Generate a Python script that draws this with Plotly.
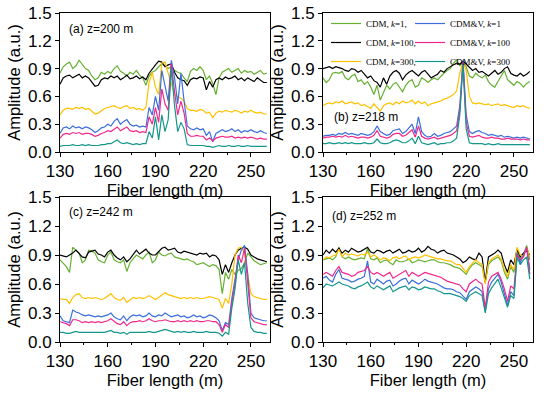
import plotly.graph_objects as go

# ---------------- data ----------------
fiber_length = [130, 132, 134, 136, 138, 140, 142, 144, 146, 148,
                150, 152, 154, 156, 158, 160, 162, 164, 166, 168,
                170, 172, 174, 176, 178, 180, 182, 184, 186, 188,
                190, 192, 194, 196, 198, 200, 202, 204, 206, 208,
                210, 212, 214, 216, 218, 220, 222, 224, 226, 228,
                230, 232, 234, 236, 238, 240, 242, 244, 246, 248,
                250, 252, 254, 256, 258, 260]

series_names = ["CDM, <i>k</i>=1,", "CDM, <i>k</i>=100,", "CDM, <i>k</i>=300,",
                "CDM&V, <i>k</i>=1", "CDM&V, <i>k</i>=100", "CDM&V, <i>k</i>=300"]
series_colors = ["#66b032", "#000000", "#ffc000", "#3c6fdc", "#f0288c", "#14968c"]

panel_labels = ["(a) z=200 m", "(b) z=218 m", "(c) z=242 m", "(d) z=252 m"]

x_ticks = [130, 160, 190, 220, 250]
y_ticks = [0.0, 0.3, 0.6, 0.9, 1.2, 1.5]
y_tick_text = ["0.0", "0.3", "0.6", "0.9", "1.2", "1.5"]

# panel (a) z=200 m
a_cdm_k1 = [0.85, 0.92, 0.95, 0.97, 0.90, 0.93, 0.99, 0.95, 0.90, 0.88,
            0.82, 0.78, 0.80, 0.86, 0.84, 0.87, 0.85, 0.90, 0.93, 0.87,
            0.85, 0.82, 0.86, 0.84, 0.88, 0.83, 0.80, 0.72, 0.82, 0.86,
            0.88, 0.92, 0.95, 0.93, 0.90, 0.92, 0.88, 0.86, 0.85, 0.80,
            0.76, 0.87, 0.90, 0.88, 0.92, 0.88, 0.78, 0.82, 0.74, 0.62,
            0.80, 0.86, 0.88, 0.90, 0.86, 0.88, 0.90, 0.85, 0.88, 0.86,
            0.87, 0.84, 0.86, 0.88, 0.84, 0.85]
a_cdm_k100 = [0.73, 0.80, 0.82, 0.83, 0.80, 0.82, 0.84, 0.80, 0.82, 0.80,
              0.76, 0.71, 0.72, 0.78, 0.80, 0.79, 0.82, 0.80, 0.82, 0.78,
              0.80, 0.83, 0.79, 0.80, 0.82, 0.79, 0.81, 0.78, 0.85, 0.90,
              0.94, 0.98, 0.97, 0.92, 0.94, 0.95, 0.86, 0.80, 0.78, 0.77,
              0.72, 0.78, 0.80, 0.79, 0.81, 0.80, 0.67, 0.76, 0.70, 0.78,
              0.80, 0.78, 0.81, 0.79, 0.80, 0.82, 0.78, 0.80, 0.77, 0.80,
              0.78, 0.76, 0.80, 0.77, 0.75, 0.75]
a_cdm_k300 = [0.40, 0.45, 0.47, 0.47, 0.46, 0.48, 0.47, 0.48, 0.46, 0.47,
              0.44, 0.41, 0.42, 0.45, 0.47, 0.48, 0.49, 0.50, 0.48, 0.47,
              0.49, 0.50, 0.47, 0.48, 0.46, 0.47, 0.45, 0.48, 0.75, 0.86,
              0.70, 0.62, 0.96, 0.97, 0.85, 0.72, 0.62, 0.60, 0.58, 0.55,
              0.47, 0.45, 0.45, 0.44, 0.46, 0.45, 0.42, 0.43, 0.37, 0.42,
              0.44, 0.43, 0.45, 0.44, 0.43, 0.45, 0.44, 0.42, 0.44, 0.43,
              0.45, 0.43, 0.42, 0.43, 0.41, 0.41]
a_cdmv_k1 = [0.20, 0.26, 0.27, 0.25, 0.28, 0.26, 0.27, 0.25, 0.27, 0.26,
             0.24, 0.21, 0.23, 0.26, 0.27, 0.30, 0.28, 0.33, 0.36, 0.30,
             0.33, 0.35, 0.30, 0.28, 0.29, 0.27, 0.28, 0.27, 0.48, 0.40,
             0.60, 0.45, 0.88, 0.70, 0.55, 0.99, 0.80, 0.52, 0.85, 0.55,
             0.28, 0.25, 0.24, 0.26, 0.24, 0.25, 0.18, 0.22, 0.11, 0.20,
             0.22, 0.24, 0.22, 0.23, 0.25, 0.22, 0.24, 0.21, 0.23, 0.22,
             0.24, 0.22, 0.21, 0.23, 0.21, 0.20]
a_cdmv_k100 = [0.15, 0.19, 0.20, 0.19, 0.21, 0.20, 0.21, 0.19, 0.20, 0.20,
               0.19, 0.17, 0.18, 0.20, 0.21, 0.23, 0.22, 0.25, 0.27, 0.23,
               0.25, 0.27, 0.23, 0.22, 0.23, 0.21, 0.22, 0.21, 0.38, 0.30,
               0.48, 0.32, 0.68, 0.52, 0.45, 0.95, 0.65, 0.40, 0.55, 0.42,
               0.20, 0.17, 0.17, 0.18, 0.17, 0.17, 0.13, 0.15, 0.12, 0.15,
               0.16, 0.17, 0.16, 0.16, 0.17, 0.15, 0.16, 0.15, 0.16, 0.15,
               0.16, 0.15, 0.14, 0.15, 0.14, 0.14]
a_cdmv_k300 = [0.06, 0.07, 0.07, 0.07, 0.08, 0.07, 0.07, 0.08, 0.07, 0.08,
               0.07, 0.07, 0.07, 0.08, 0.08, 0.09, 0.09, 0.11, 0.13, 0.10,
               0.09, 0.10, 0.09, 0.08, 0.09, 0.08, 0.09, 0.09, 0.22, 0.15,
               0.38, 0.13, 0.40, 0.22, 0.35, 0.90, 0.50, 0.22, 0.32, 0.25,
               0.08, 0.07, 0.07, 0.07, 0.07, 0.07, 0.06, 0.06, 0.05, 0.06,
               0.07, 0.06, 0.06, 0.07, 0.06, 0.06, 0.07, 0.06, 0.06, 0.07,
               0.06, 0.06, 0.06, 0.06, 0.06, 0.06]

# panel (b) z=218 m
b_cdm_k1 = [0.80, 0.75, 0.78, 0.85, 0.86, 0.85, 0.87, 0.80, 0.78, 0.82,
            0.84, 0.76, 0.78, 0.73, 0.76, 0.70, 0.62, 0.72, 0.56, 0.65,
            0.72, 0.68, 0.73, 0.75, 0.70, 0.65, 0.72, 0.76, 0.78, 0.70,
            0.72, 0.80, 0.78, 0.75, 0.78, 0.80, 0.78, 0.82, 0.85, 0.88,
            0.90, 0.96, 0.99, 0.93, 0.97, 0.92, 0.82, 0.80, 0.85, 0.82,
            0.80, 0.83, 0.76, 0.72, 0.70, 0.76, 0.82, 0.88, 0.78, 0.75,
            0.72, 0.76, 0.74, 0.70, 0.74, 0.76]
b_cdm_k100 = [0.90, 0.91, 0.92, 0.90, 0.92, 0.91, 0.90, 0.88, 0.87, 0.90,
              0.89, 0.86, 0.88, 0.84, 0.80, 0.82, 0.77, 0.75, 0.70, 0.80,
              0.73, 0.82, 0.86, 0.88, 0.85, 0.78, 0.83, 0.86, 0.88, 0.85,
              0.82, 0.86, 0.88, 0.84, 0.80, 0.82, 0.84, 0.88, 0.86, 0.90,
              0.92, 0.94, 0.96, 0.95, 0.98, 0.95, 0.92, 0.88, 0.90, 0.86,
              0.87, 0.84, 0.82, 0.85, 0.88, 0.84, 0.86, 0.90, 0.92, 0.85,
              0.83, 0.82, 0.85, 0.82, 0.84, 0.87]
b_cdm_k300 = [0.50, 0.52, 0.53, 0.52, 0.54, 0.53, 0.55, 0.52, 0.53, 0.54,
              0.52, 0.53, 0.50, 0.51, 0.49, 0.47, 0.52, 0.48, 0.44, 0.50,
              0.52, 0.53, 0.51, 0.54, 0.52, 0.55, 0.53, 0.54, 0.56, 0.52,
              0.55, 0.52, 0.54, 0.50, 0.52, 0.53, 0.54, 0.55, 0.57, 0.58,
              0.60, 0.62, 0.66, 0.85, 0.97, 0.88, 0.60, 0.53, 0.52, 0.53,
              0.52, 0.51, 0.52, 0.50, 0.51, 0.52, 0.50, 0.51, 0.50, 0.49,
              0.48, 0.50, 0.49, 0.50, 0.48, 0.47]
b_cdmv_k1 = [0.17, 0.18, 0.18, 0.19, 0.18, 0.20, 0.19, 0.21, 0.19, 0.20,
             0.19, 0.18, 0.20, 0.19, 0.18, 0.19, 0.22, 0.28, 0.22, 0.20,
             0.18, 0.19, 0.23, 0.24, 0.25, 0.20, 0.22, 0.26, 0.30, 0.20,
             0.38, 0.22, 0.18, 0.16, 0.17, 0.20, 0.17, 0.18, 0.20, 0.21,
             0.22, 0.25, 0.28, 0.50, 0.99, 0.40, 0.22, 0.20, 0.22, 0.23,
             0.21, 0.20, 0.18, 0.19, 0.18, 0.17, 0.18, 0.16, 0.17, 0.16,
             0.15, 0.16, 0.15, 0.16, 0.15, 0.14]
b_cdmv_k100 = [0.15, 0.16, 0.16, 0.17, 0.16, 0.17, 0.16, 0.18, 0.16, 0.17,
               0.16, 0.15, 0.16, 0.16, 0.15, 0.16, 0.18, 0.23, 0.17, 0.16,
               0.15, 0.16, 0.19, 0.20, 0.20, 0.17, 0.18, 0.21, 0.24, 0.16,
               0.28, 0.17, 0.15, 0.14, 0.15, 0.16, 0.14, 0.15, 0.16, 0.17,
               0.18, 0.20, 0.23, 0.45, 0.97, 0.32, 0.17, 0.16, 0.17, 0.18,
               0.16, 0.15, 0.15, 0.16, 0.15, 0.15, 0.14, 0.14, 0.15, 0.14,
               0.14, 0.14, 0.13, 0.14, 0.13, 0.13]
b_cdmv_k300 = [0.09, 0.09, 0.10, 0.09, 0.09, 0.10, 0.09, 0.10, 0.09, 0.10,
               0.09, 0.09, 0.09, 0.10, 0.09, 0.09, 0.10, 0.14, 0.10, 0.09,
               0.09, 0.10, 0.12, 0.13, 0.12, 0.10, 0.10, 0.12, 0.15, 0.09,
               0.17, 0.10, 0.09, 0.08, 0.09, 0.10, 0.08, 0.09, 0.09, 0.10,
               0.10, 0.12, 0.15, 0.40, 0.95, 0.25, 0.10, 0.09, 0.09, 0.09,
               0.09, 0.08, 0.09, 0.08, 0.08, 0.09, 0.08, 0.08, 0.08, 0.08,
               0.08, 0.08, 0.08, 0.08, 0.08, 0.08]

# panel (c) z=242 m
c_cdm_k1 = [0.85, 0.82, 0.78, 0.72, 0.98, 0.95, 0.92, 0.82, 0.85, 0.95,
            0.94, 0.92, 0.85, 0.83, 0.82, 0.90, 0.93, 0.85, 0.83, 0.82,
            0.85, 0.73, 0.82, 0.86, 0.90, 0.88, 0.86, 0.90, 0.93, 0.82,
            0.85, 0.93, 0.90, 0.89, 0.91, 0.92, 0.88, 0.87, 0.86, 0.85,
            0.86, 0.84, 0.83, 0.80, 0.81, 0.82, 0.80, 0.78, 0.80, 0.79,
            0.75, 0.50, 0.72, 0.65, 0.75, 0.70, 0.74, 0.76, 0.82, 0.92,
            0.88, 0.84, 0.82, 0.80, 0.81, 0.82]
c_cdm_k100 = [0.90, 0.89, 0.88, 0.90, 0.92, 0.95, 0.92, 0.88, 0.87, 0.93,
              0.94, 0.95, 0.91, 0.90, 0.88, 0.93, 0.95, 0.90, 0.87, 0.85,
              0.88, 0.83, 0.86, 0.90, 0.95, 0.91, 0.94, 0.96, 0.92, 0.90,
              0.90, 0.94, 0.97, 0.98, 0.95, 0.96, 0.97, 0.93, 0.92, 0.94,
              0.93, 0.92, 0.91, 0.90, 0.92, 0.91, 0.92, 0.88, 0.90, 0.89,
              0.85, 0.70, 0.80, 0.72, 0.82, 0.90, 0.95, 0.97, 0.98, 0.96,
              0.90, 0.88, 0.86, 0.85, 0.84, 0.83]
c_cdm_k300 = [0.45, 0.44, 0.44, 0.40, 0.46, 0.49, 0.50, 0.46, 0.45, 0.46,
              0.45, 0.46, 0.45, 0.44, 0.45, 0.48, 0.50, 0.46, 0.44, 0.43,
              0.46, 0.41, 0.44, 0.46, 0.45, 0.46, 0.45, 0.46, 0.48, 0.46,
              0.44, 0.46, 0.49, 0.51, 0.49, 0.48, 0.47, 0.46, 0.45, 0.46,
              0.45, 0.46, 0.45, 0.46, 0.45, 0.45, 0.46, 0.47, 0.46, 0.45,
              0.44, 0.35, 0.45, 0.40, 0.60, 0.90, 0.97, 0.98, 0.92, 0.70,
              0.50, 0.47, 0.46, 0.45, 0.44, 0.44]
c_cdmv_k1 = [0.27, 0.22, 0.21, 0.20, 0.33, 0.31, 0.30, 0.28, 0.27, 0.28,
             0.27, 0.26, 0.27, 0.26, 0.27, 0.28, 0.30, 0.26, 0.24, 0.23,
             0.27, 0.22, 0.26, 0.28, 0.27, 0.28, 0.26, 0.27, 0.30, 0.27,
             0.26, 0.28, 0.27, 0.30, 0.28, 0.26, 0.27, 0.28, 0.26, 0.27,
             0.25, 0.26, 0.28, 0.26, 0.27, 0.25, 0.26, 0.28, 0.27, 0.25,
             0.22, 0.12, 0.20, 0.18, 0.45, 0.65, 0.85, 0.95, 1.00, 0.70,
             0.30, 0.25, 0.24, 0.23, 0.22, 0.22]
c_cdmv_k100 = [0.21, 0.20, 0.19, 0.17, 0.23, 0.23, 0.22, 0.20, 0.21, 0.20,
               0.21, 0.20, 0.21, 0.20, 0.21, 0.22, 0.24, 0.21, 0.19, 0.18,
               0.21, 0.17, 0.20, 0.21, 0.21, 0.22, 0.21, 0.22, 0.24, 0.22,
               0.21, 0.22, 0.22, 0.23, 0.22, 0.21, 0.21, 0.22, 0.21, 0.22,
               0.21, 0.22, 0.21, 0.22, 0.21, 0.21, 0.22, 0.22, 0.21, 0.21,
               0.18, 0.10, 0.18, 0.15, 0.40, 0.60, 0.90, 0.82, 0.97, 0.60,
               0.25, 0.21, 0.20, 0.19, 0.18, 0.18]
c_cdmv_k300 = [0.10, 0.10, 0.09, 0.09, 0.10, 0.11, 0.10, 0.10, 0.10, 0.10,
               0.10, 0.10, 0.10, 0.10, 0.10, 0.11, 0.12, 0.10, 0.10, 0.09,
               0.10, 0.08, 0.10, 0.10, 0.10, 0.10, 0.10, 0.10, 0.11, 0.10,
               0.10, 0.11, 0.12, 0.13, 0.12, 0.11, 0.10, 0.11, 0.10, 0.11,
               0.10, 0.10, 0.11, 0.10, 0.10, 0.10, 0.11, 0.10, 0.10, 0.10,
               0.09, 0.06, 0.10, 0.08, 0.35, 0.55, 0.85, 0.70, 0.82, 0.40,
               0.15, 0.11, 0.10, 0.10, 0.09, 0.09]

# panel (d) z=252 m
d_cdm_k1 = [0.85, 0.86, 0.87, 0.85, 0.88, 0.98, 0.88, 0.86, 0.88, 0.86,
            0.85, 0.86, 0.87, 0.86, 0.97, 0.86, 0.85, 0.87, 0.82, 0.84,
            0.85, 0.82, 0.80, 0.85, 0.83, 0.83, 0.84, 0.86, 0.82, 0.83,
            0.85, 0.84, 0.83, 0.84, 0.85, 0.85, 0.83, 0.82, 0.82, 0.81,
            0.80, 0.78, 0.77, 0.76, 0.73, 0.70, 0.76, 0.80, 0.82, 0.80,
            0.78, 0.62, 0.80, 0.84, 0.86, 0.88, 0.84, 0.72, 0.65, 0.78,
            0.72, 0.95, 0.85, 0.90, 1.00, 0.85]
d_cdm_k100 = [0.90, 0.95, 0.92, 0.96, 0.93, 0.97, 0.92, 0.95, 0.93, 0.97,
              0.95, 0.93, 0.94, 0.96, 0.98, 0.93, 0.92, 0.95, 0.94, 0.92,
              0.94, 0.95, 0.92, 0.94, 0.96, 0.92, 0.93, 0.95, 0.93, 0.94,
              0.97, 0.93, 0.95, 0.99, 0.96, 0.95, 0.92, 0.94, 0.95, 0.92,
              0.91, 0.90, 0.88, 0.86, 0.82, 0.84, 0.88, 0.86, 0.85, 0.92,
              0.88, 0.62, 0.88, 0.90, 0.92, 0.95, 0.92, 0.80, 0.72, 0.85,
              0.80, 0.96, 0.88, 0.92, 0.95, 0.90]
d_cdm_k300 = [0.85, 0.88, 0.87, 0.89, 0.90, 0.96, 0.88, 0.92, 0.90, 0.91,
              0.90, 0.89, 0.91, 0.90, 0.93, 0.88, 0.90, 0.88, 0.85, 0.87,
              0.86, 0.84, 0.87, 0.88, 0.86, 0.88, 0.89, 0.85, 0.87, 0.88,
              0.87, 0.88, 0.90, 0.89, 0.88, 0.87, 0.86, 0.86, 0.85, 0.84,
              0.84, 0.82, 0.80, 0.80, 0.76, 0.72, 0.78, 0.82, 0.85, 0.82,
              0.80, 0.60, 0.82, 0.86, 0.88, 0.90, 0.86, 0.75, 0.68, 0.80,
              0.75, 0.98, 0.90, 0.88, 0.98, 0.88]
d_cdmv_k1 = [0.66, 0.68, 0.64, 0.62, 0.70, 0.75, 0.66, 0.65, 0.64, 0.62,
             0.63, 0.65, 0.66, 0.68, 0.84, 0.62, 0.60, 0.65, 0.62, 0.60,
             0.63, 0.64, 0.58, 0.60, 0.63, 0.65, 0.66, 0.60, 0.64, 0.62,
             0.60, 0.62, 0.65, 0.63, 0.62, 0.61, 0.60, 0.58, 0.56, 0.55,
             0.55, 0.54, 0.52, 0.51, 0.48, 0.44, 0.52, 0.55, 0.57, 0.55,
             0.52, 0.32, 0.55, 0.62, 0.66, 0.70, 0.62, 0.50, 0.38, 0.52,
             0.48, 0.92, 0.82, 0.90, 0.98, 0.75]
d_cdmv_k100 = [0.70, 0.72, 0.70, 0.68, 0.74, 0.78, 0.72, 0.71, 0.70, 0.68,
               0.69, 0.72, 0.73, 0.74, 0.78, 0.72, 0.70, 0.72, 0.70, 0.68,
               0.70, 0.72, 0.66, 0.68, 0.70, 0.72, 0.74, 0.68, 0.72, 0.70,
               0.68, 0.70, 0.72, 0.71, 0.70, 0.69, 0.68, 0.67, 0.65, 0.63,
               0.62, 0.61, 0.60, 0.59, 0.55, 0.52, 0.60, 0.63, 0.65, 0.62,
               0.60, 0.35, 0.62, 0.68, 0.70, 0.72, 0.65, 0.55, 0.42, 0.58,
               0.55, 0.90, 0.85, 0.88, 0.98, 0.70]
d_cdmv_k300 = [0.56, 0.60, 0.59, 0.58, 0.60, 0.62, 0.60, 0.59, 0.58, 0.56,
               0.55, 0.57, 0.58, 0.60, 0.62, 0.57, 0.55, 0.58, 0.56, 0.54,
               0.56, 0.58, 0.52, 0.54, 0.56, 0.57, 0.58, 0.54, 0.57, 0.56,
               0.54, 0.55, 0.57, 0.56, 0.55, 0.55, 0.53, 0.52, 0.50, 0.50,
               0.50, 0.49, 0.48, 0.47, 0.45, 0.42, 0.48, 0.50, 0.52, 0.50,
               0.48, 0.30, 0.50, 0.56, 0.60, 0.65, 0.56, 0.45, 0.36, 0.48,
               0.45, 0.88, 0.80, 0.85, 0.88, 0.65]

panels = [
    [a_cdm_k1, a_cdm_k100, a_cdm_k300, a_cdmv_k1, a_cdmv_k100, a_cdmv_k300],
    [b_cdm_k1, b_cdm_k100, b_cdm_k300, b_cdmv_k1, b_cdmv_k100, b_cdmv_k300],
    [c_cdm_k1, c_cdm_k100, c_cdm_k300, c_cdmv_k1, c_cdmv_k100, c_cdmv_k300],
    [d_cdm_k1, d_cdm_k100, d_cdm_k300, d_cdmv_k1, d_cdmv_k100, d_cdmv_k300],
]

# ---------------- layout geometry (pixels of a 550x394 page) ----------------
W, H = 550, 394
x_doms = [[60 / W, 270 / W], [323 / W, 533 / W], [60 / W, 270 / W], [323 / W, 533 / W]]
y_doms = [[1 - 152 / H, 1 - 13 / H], [1 - 152 / H, 1 - 13 / H],
          [1 - 342 / H, 1 - 197 / H], [1 - 342 / H, 1 - 197 / H]]
label_pos = [(0.035, 0.885), (0.045, 0.25), (0.035, 0.897), (0.035, 0.87)]

FONT = "Liberation Sans, Arial, sans-serif"
SERIF = "Liberation Serif, Times New Roman, serif"

fig = go.Figure()

for p, series in enumerate(panels):
    suffix = "" if p == 0 else str(p + 1)
    for s, vals in enumerate(series):
        fig.add_trace(go.Scatter(
            x=fiber_length, y=vals, mode="lines",
            name=series_names[s],
            line=dict(color=series_colors[s], width=1.2),
            xaxis="x" + suffix, yaxis="y" + suffix,
            showlegend=(p == 0),
            legend="legend" if s < 3 else "legend2",
        ))

axis_common = dict(
    showline=True, linecolor="black", linewidth=1, mirror=True,
    ticks="outside", ticklen=4, tickwidth=1, tickcolor="black",
    showgrid=False, zeroline=False, automargin=False,
    tickfont=dict(family=FONT, size=17, color="black"),
)

legend_common = dict(
    xanchor="left", yanchor="top",
    bgcolor="rgba(0,0,0,0)", borderwidth=0,
    font=dict(family=SERIF, size=9, color="black"),
    tracegroupgap=0,
)

layout = dict(
    width=W, height=H,
    margin=dict(l=0, r=0, t=0, b=0, autoexpand=False),
    paper_bgcolor="white", plot_bgcolor="white",
    font=dict(family=FONT, color="black"),
    legend=dict(legend_common, x=326 / W, y=1 - 9 / H),
    legend2=dict(legend_common, x=410 / W, y=1 - 9 / H),
    annotations=[],
)

for p in range(4):
    suffix = "" if p == 0 else str(p + 1)
    layout["xaxis" + suffix] = dict(
        axis_common, domain=x_doms[p], anchor="y" + suffix,
        range=[130, 262], tickvals=x_ticks,
        minor=dict(tickvals=[145, 175, 205, 235], ticks="outside", ticklen=2, tickcolor="black"),
        title=dict(text="Fiber length (m)", font=dict(family=FONT, size=16.5, color="black"), standoff=4),
    )
    layout["yaxis" + suffix] = dict(
        axis_common, domain=y_doms[p], anchor="x" + suffix,
        range=[0, 1.5], tickvals=y_ticks, ticktext=y_tick_text,
        title=dict(text="Amplitude (a.u.)", font=dict(family=FONT, size=16.5, color="black"), standoff=3),
    )
    layout["annotations"].append(dict(
        text=panel_labels[p], xref="x" + suffix + " domain", yref="y" + suffix + " domain",
        x=label_pos[p][0], y=label_pos[p][1], xanchor="left", yanchor="middle",
        showarrow=False, font=dict(family=FONT, size=12, color="black"),
    ))

fig.update_layout(layout)
fig.write_html("out.html", config={"displayModeBar": False},
               post_script="document.body.style.margin='0';")
